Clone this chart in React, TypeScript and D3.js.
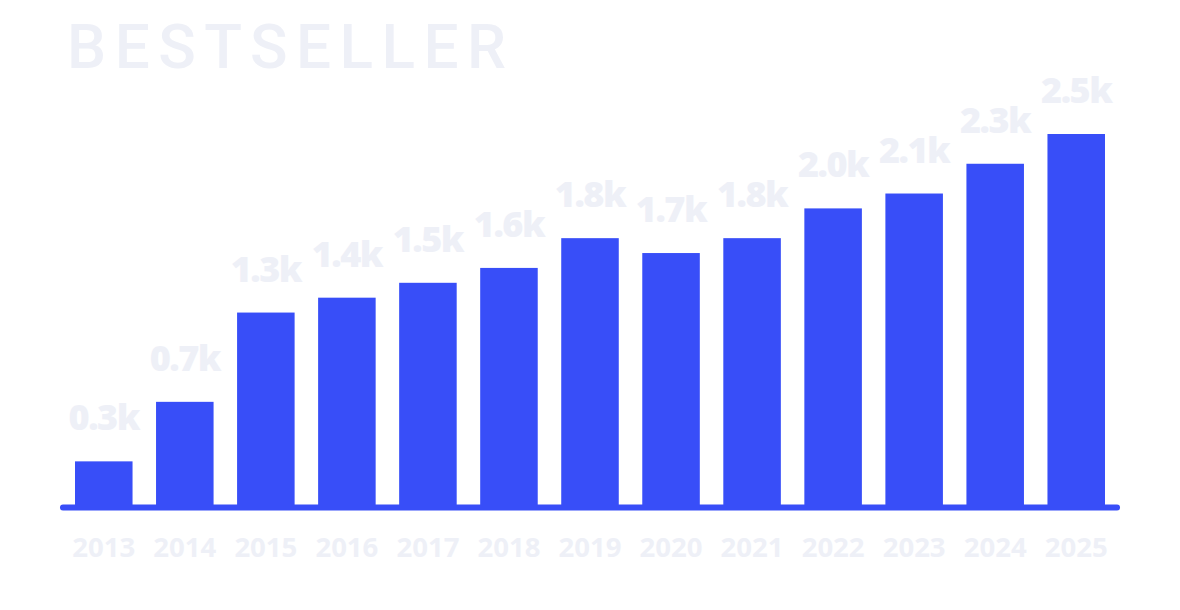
import React, { useRef, useEffect } from "react";
import * as d3 from "d3";

const YEARS = [
  "2013", "2014", "2015", "2016", "2017", "2018", "2019",
  "2020", "2021", "2022", "2023", "2024", "2025",
];
const SALES = [0.3, 0.7, 1.3, 1.4, 1.5, 1.6, 1.8, 1.7, 1.8, 2.0, 2.1, 2.3, 2.5];
const TITLE = "BESTSELLER";

const BLUE = "#384ef8";
const PALE = "#eef0f7";

export default function App() {
  const svgRef = useRef<SVGSVGElement>(null);
  const width = 1180;
  const height = 610;

  useEffect(() => {
    if (!svgRef.current) return;
    const svg = d3.select(svgRef.current);
    svg.selectAll("*").remove();

    const baseY = 506;

    const x = d3
      .scaleBand<string>()
      .domain(YEARS)
      .range([75, 1105])
      .paddingInner(0.29)
      .paddingOuter(0);
    const y = d3.scaleLinear().domain([0, 2.5]).range([baseY, 134]);

    // title
    svg
      .append("text")
      .attr("x", 67)
      .attr("y", 68)
      .style("font-family", "Roboto, sans-serif")
      .style("font-size", "62px")
      .style("font-weight", 500)
      .style("letter-spacing", "8.5px")
      .style("fill", PALE)
      .text(TITLE);

    // bars
    svg
      .append("g")
      .selectAll("rect")
      .data(SALES)
      .join("rect")
      .attr("x", (_d, i) => x(YEARS[i])!)
      .attr("y", (d) => y(d))
      .attr("width", x.bandwidth())
      .attr("height", (d) => baseY - y(d))
      .attr("fill", BLUE);

    // baseline
    svg
      .append("line")
      .attr("x1", 63)
      .attr("x2", 1117)
      .attr("y1", 507.5)
      .attr("y2", 507.5)
      .attr("stroke", BLUE)
      .attr("stroke-width", 6)
      .attr("stroke-linecap", "round");

    // value labels
    svg
      .append("g")
      .selectAll("text")
      .data(SALES)
      .join("text")
      .attr("x", (_d, i) => x(YEARS[i])! + x.bandwidth() / 2)
      .attr("y", (d) => y(d) - 31)
      .attr("text-anchor", "middle")
      .style("font-family", "'Open Sans', sans-serif")
      .style("font-size", "36px")
      .style("font-weight", 800)
      .style("letter-spacing", "-1.5px")
      .style("fill", PALE)
      .text((d) => `${d.toFixed(1)}k`);

    // year labels
    svg
      .append("g")
      .selectAll("text")
      .data(YEARS)
      .join("text")
      .attr("x", (d) => x(d)! + x.bandwidth() / 2)
      .attr("y", 557)
      .attr("text-anchor", "middle")
      .style("font-family", "'Open Sans', sans-serif")
      .style("font-size", "27.5px")
      .style("font-weight", 700)
      .style("fill", PALE)
      .text((d) => d);
  }, []);

  return (
    <svg
      ref={svgRef}
      width={width}
      height={height}
      style={{ display: "block", position: "absolute", left: 0, top: 0, background: "#fff" }}
      viewBox={`0 0 ${width} ${height}`}
    />
  );
}
